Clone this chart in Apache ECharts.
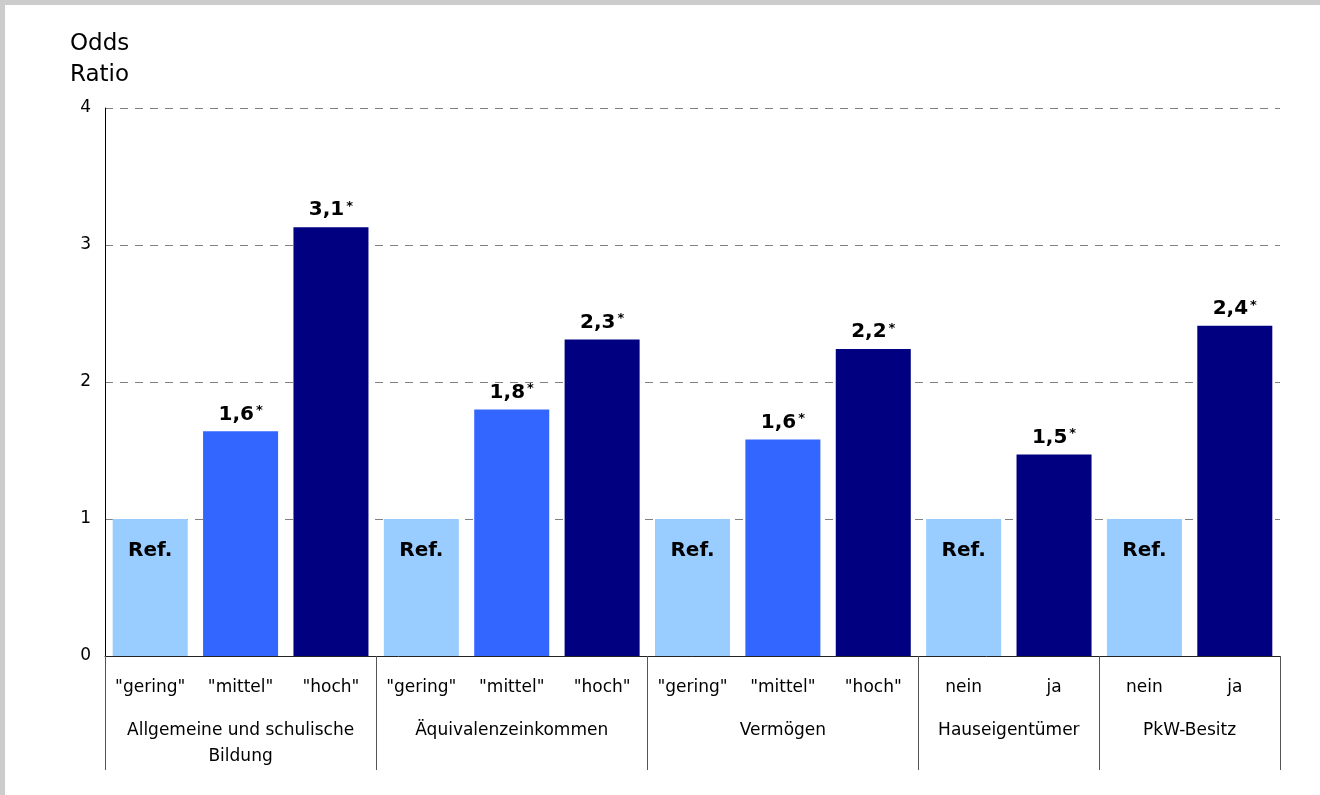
<!DOCTYPE html>
<html>
<head>
<meta charset="utf-8">
<script src="https://cdn.jsdelivr.net/npm/echarts@6/dist/echarts.min.js"></script>
<style>
  html, body { margin: 0; padding: 0; background: #ffffff; }
  #chart { position: absolute; left: 0; top: 0; width: 1320px; height: 795px; }
  .edge { position: absolute; background: #cccccc; z-index: 2; }
</style>
</head>
<body>
<div id="chart"></div>
<div class="edge" style="left:0;top:0;width:1320px;height:5px;"></div>
<div class="edge" style="left:0;top:0;width:5px;height:795px;"></div>
<script>
// Odds ratios by characteristic; the first level of each group is the reference (1)
const categories = ['"gering"', '"mittel"', '"hoch"',
                    '"gering"', '"mittel"', '"hoch"',
                    '"gering"', '"mittel"', '"hoch"',
                    'nein', 'ja',
                    'nein', 'ja'];
const oddsRatios = [1, 1.64, 3.13,
                    1, 1.80, 2.31,
                    1, 1.58, 2.24,
                    1, 1.47,
                    1, 2.41];
const isReference = [true, false, false,
                     true, false, false,
                     true, false, false,
                     true, false,
                     true, false];
const significant = [false, true, true,
                     false, true, true,
                     false, true, true,
                     false, true,
                     false, true];
// level within group: 0 = reference, 1 = middle, 2 = top
const levels = [0, 1, 2, 0, 1, 2, 0, 1, 2, 0, 2, 0, 2];
const groupNames = ['Allgemeine und schulische\nBildung', 'Äquivalenzeinkommen',
                    'Vermögen', 'Hauseigentümer', 'PkW-Besitz'];
const groupSizes = [3, 3, 3, 2, 2];
const yTicks = [0, 1, 2, 3, 4];

const levelColors = ['#99ccff', '#3366ff', '#000080'];
const FONT = '"DejaVu Sans", sans-serif';

// group boundaries and centres on a 0..n value scale aligned with the category bands
const bounds = [0];
groupSizes.forEach(s => bounds.push(bounds[bounds.length - 1] + s));
const centres = groupSizes.map((s, i) => bounds[i] + s / 2);

const fmt = v => v.toFixed(1).replace('.', ',');

const barData = oddsRatios.map((v, i) => ({
  value: v,
  itemStyle: { color: levelColors[levels[i]] },
  label: isReference[i]
    ? { show: true, position: 'insideTop', distance: 22,
        formatter: 'Ref.', fontFamily: FONT, fontSize: 20, fontWeight: 'bold', color: '#000' }
    : { show: true, position: 'top', distance: 7,
        formatter: '{v|' + fmt(v) + '}' + (significant[i] ? '{s|*}' : ''),
        rich: {
          v: { fontFamily: FONT, fontSize: 20, fontWeight: 'bold', color: '#000' },
          s: { fontFamily: FONT, fontSize: 13, fontWeight: 'bold', color: '#000',
               verticalAlign: 'top', padding: [0, 0, 5, 2] }
        } }
}));

const chart = echarts.init(document.getElementById('chart'), null, { renderer: 'canvas' });
chart.setOption({
  backgroundColor: '#ffffff',
  animation: false,
  title: {
    text: 'Odds\nRatio',
    left: 65, top: 24,
    textStyle: { fontFamily: FONT, fontSize: 23, fontWeight: 'normal', lineHeight: 31, color: '#000' }
  },
  grid: { left: 105, right: 40, top: 108, bottom: 139, containLabel: false },
  xAxis: [{
    type: 'category',
    data: categories,
    boundaryGap: true,
    axisLine: { show: true, lineStyle: { color: '#222222', width: 1 } },
    axisTick: { show: false },
    axisLabel: { interval: 0, margin: 23, fontFamily: FONT, fontSize: 17, color: '#000' }
  }, {
    type: 'value',
    position: 'bottom',
    min: 0, max: bounds[bounds.length - 1],
    axisLine: { show: false },
    splitLine: { show: false },
    axisTick: { show: true, customValues: bounds, length: 114,
                lineStyle: { color: '#555555', width: 1 } },
    axisLabel: { show: true, customValues: centres, margin: 62,
                 fontFamily: FONT, fontSize: 17, color: '#000', lineHeight: 26,
                 formatter: v => groupNames[centres.indexOf(v)] || '' }
  }],
  yAxis: {
    type: 'value',
    min: yTicks[0], max: yTicks[yTicks.length - 1], interval: 1,
    axisLine: { show: true, lineStyle: { color: '#000000', width: 1 } },
    axisTick: { show: false },
    axisLabel: { margin: 14, fontFamily: FONT, fontSize: 17, color: '#000' },
    splitLine: { show: true, lineStyle: { color: '#808080', width: 1, type: [8, 7] } }
  },
  series: [{
    type: 'bar',
    xAxisIndex: 0,
    data: barData,
    barCategoryGap: '17%'
  }]
});
</script>
</body>
</html>
